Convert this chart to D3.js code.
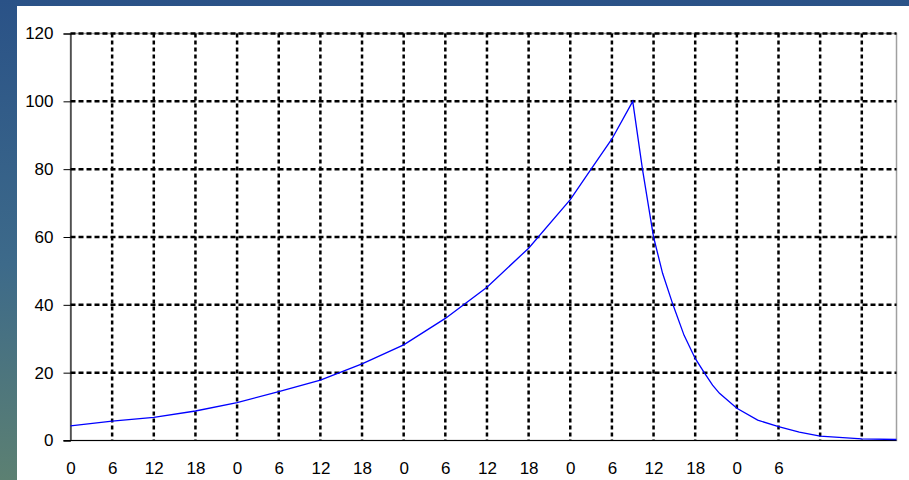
<!DOCTYPE html>
<meta charset="utf-8">
<script src="https://d3js.org/d3.v7.min.js"></script>
<style>
  body { margin: 0; overflow: hidden; }
</style>
<div id="my_dataviz"></div>
<script>

// hours since start and the plotted value at that hour
var hours  = [0, 6, 12, 18, 24, 30, 36, 42, 48, 54, 60, 66, 72, 75, 78, 81,
              82.4, 84, 85.3, 86.8, 88.4, 90, 91.3, 92.5, 93.5, 96, 99, 102, 105, 108, 114, 119];
var values = [4.3, 5.7, 6.8, 8.7, 11.2, 14.4, 17.8, 22.6, 28.2, 36, 45.2, 56.7, 71, 80, 88.9, 100,
              80, 60, 49.3, 40, 31, 24.2, 20, 16.3, 13.9, 9.5, 6, 4.1, 2.5, 1.3, 0.5, 0.3];

// y ticks and x ticks (hour positions; only the first 18 carry a label)
var yTicks = [0, 20, 40, 60, 80, 100, 120];
var xTicks = [0, 6, 12, 18, 24, 30, 36, 42, 48, 54, 60, 66, 72, 78, 84, 90, 96, 102, 108, 114];
var xLabels = ["0", "6", "12", "18", "0", "6", "12", "18", "0", "6", "12", "18",
               "0", "6", "12", "18", "0", "6", "", ""];

var W = 909, H = 480;
var svg = d3.select("#my_dataviz")
  .append("svg")
    .attr("width", W)
    .attr("height", H);

// blue backdrop with a white panel on it
var grad = svg.append("defs").append("linearGradient")
    .attr("id", "bg").attr("x1", 0).attr("y1", 0).attr("x2", 0).attr("y2", 1);
grad.append("stop").attr("offset", "0%").attr("stop-color", "#2a5287");
grad.append("stop").attr("offset", "55%").attr("stop-color", "#3d6a8a");
grad.append("stop").attr("offset", "100%").attr("stop-color", "#5c8072");
svg.append("rect").attr("width", W).attr("height", H).attr("fill", "url(#bg)");
svg.append("rect").attr("x", 17).attr("y", 6).attr("width", W - 17).attr("height", H - 6).attr("fill", "#ffffff");

var x = d3.scaleLinear().domain([0, 119]).range([70.5, 896.5]);
var y = d3.scaleLinear().domain([0, 120]).range([440.5, 33.5]);

// frame
svg.append("rect")
  .attr("x", x(0)).attr("y", y(120))
  .attr("width", x(119) - x(0)).attr("height", y(0) - y(120))
  .attr("fill", "none").attr("stroke", "#a0a0a0").attr("stroke-width", 1.5);

// dotted grid
svg.append("g").selectAll("line")
  .data(yTicks.filter(function(d) { return d > 0; }))
  .enter().append("line")
    .attr("x1", x(0)).attr("x2", x(119))
    .attr("y1", function(d) { return y(d); })
    .attr("y2", function(d) { return y(d); })
    .attr("stroke", "#000").attr("stroke-width", 2.5)
    .attr("stroke-dasharray", "5,3");

svg.append("g").selectAll("line")
  .data(xTicks.filter(function(d) { return d > 0; }))
  .enter().append("line")
    .attr("x1", function(d) { return x(d); })
    .attr("x2", function(d) { return x(d); })
    .attr("y1", y(120)).attr("y2", y(0))
    .attr("stroke", "#000").attr("stroke-width", 2.5)
    .attr("stroke-dasharray", "4,3");

// Y axis
svg.append("g")
  .attr("transform", "translate(" + x(0) + ",0)")
  .call(d3.axisLeft(y).tickValues(yTicks).tickSize(7).tickPadding(10))
  .attr("font-size", 17)
  .attr("font-family", "'Liberation Sans', Arial, sans-serif");

// X axis
var xAxis = svg.append("g")
  .attr("transform", "translate(0," + y(0) + ")")
  .call(d3.axisBottom(x).tickValues(xTicks).tickSize(0).tickPadding(21)
    .tickFormat(function(d, i) { return xLabels[i]; }))
  .attr("font-size", 17)
  .attr("font-family", "'Liberation Sans', Arial, sans-serif");
xAxis.select(".domain").attr("d", "M" + (x(0) - 7) + ",0H" + x(119));

// the curve
var line = d3.line()
  .x(function(d, i) { return x(hours[i]); })
  .y(function(d) { return y(d); });

svg.append("path")
  .datum(values)
  .attr("fill", "none")
  .attr("stroke", "#0000ff")
  .attr("stroke-width", 1.3)
  .attr("d", line);

</script>
